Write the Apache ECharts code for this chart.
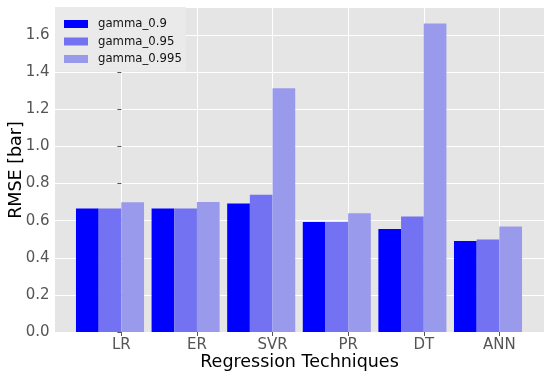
<!DOCTYPE html>
<html>
<head>
<meta charset="utf-8">
<script src="https://cdn.jsdelivr.net/npm/echarts@6/dist/echarts.min.js"></script>
<style>html,body{margin:0;padding:0;background:#fff;}#c{width:550px;height:375px;}</style>
</head>
<body>
<div id="c"></div>
<script>
var categories = ['LR', 'ER', 'SVR', 'PR', 'DT', 'ANN'];
var seriesNames = ['gamma_0.9', 'gamma_0.95', 'gamma_0.995'];
var gamma090 = [0.666, 0.666, 0.693, 0.593, 0.555, 0.490];
var gamma095 = [0.666, 0.666, 0.740, 0.593, 0.623, 0.499];
var gamma0995 = [0.699, 0.700, 1.313, 0.640, 1.663, 0.569];
var yTicks = [0, 0.2, 0.4, 0.6, 0.8, 1.0, 1.2, 1.4, 1.6];
var colors = ['#0000FF', '#7272F2', '#9A9AEC'];

var yMax = 1.746;
var font = 'DejaVu Sans';
var chart = echarts.init(document.getElementById('c'), null, {renderer: 'canvas'});
var tickIdx = categories.map(function (c, i) { return i; });

var option = {
  animation: false,
  textStyle: {fontFamily: font},
  grid: [
    {left: 55, right: 6, top: 8, bottom: 43, show: true, backgroundColor: '#E5E5E5', borderWidth: 0, containLabel: false, outerBoundsMode: 'none'},
    {left: 72.2, right: 24.2, top: 8, bottom: 43, containLabel: false, outerBoundsMode: 'none'}
  ],
  legend: {
    orient: 'vertical', left: 55, top: 7,
    backgroundColor: '#EAEAEA',
    padding: [10, 4, 5, 9],
    icon: 'rect',
    itemWidth: 24, itemHeight: 8, itemGap: 3.5,
    textStyle: {fontSize: 11.7, color: '#111', fontFamily: font, lineHeight: 14, padding: [0, 0, 0, 5]},
    data: seriesNames.map(function (n, i) { return {name: n, itemStyle: {color: colors[i]}}; }),
    z: 10
  },
  xAxis: [
    {
      type: 'value', gridIndex: 0, min: -0.878, max: 5.59, interval: 1,
      name: 'Regression Techniques', nameLocation: 'middle', nameGap: 21, nameMoveOverlap: false,
      nameTextStyle: {fontSize: 17.5, color: '#000', fontFamily: font},
      axisLine: {show: false},
      axisTick: {show: true, length: 4, lineStyle: {color: '#555'}, customValues: tickIdx},
      axisLabel: {
        fontSize: 15, color: '#555', margin: 6, fontFamily: font,
        customValues: tickIdx,
        formatter: function (v) { var i = Math.round(v); return (Math.abs(v - i) < 1e-6 && categories[i]) ? categories[i] : ''; }
      },
      splitLine: {show: true, lineStyle: {color: '#FFFFFF', width: 1}}
    },
    {type: 'category', gridIndex: 1, data: categories, show: false}
  ],
  yAxis: [
    {
      type: 'value', gridIndex: 0, min: 0, max: yMax, interval: 0.2,
      name: 'RMSE [bar]', nameLocation: 'middle', nameGap: 30, nameMoveOverlap: false,
      nameTextStyle: {fontSize: 17.5, color: '#000', fontFamily: font},
      axisLine: {show: false},
      axisTick: {show: true, length: 4, lineStyle: {color: '#555'}, customValues: yTicks},
      axisLabel: {
        fontSize: 15, color: '#555', margin: 5.5, fontFamily: font,
        customValues: yTicks,
        formatter: function (v) { return v.toFixed(1); }
      },
      splitLine: {show: true, lineStyle: {color: '#FFFFFF', width: 1}}
    },
    {type: 'value', gridIndex: 1, min: 0, max: yMax, show: false}
  ],
  series: [
    {name: seriesNames[0], type: 'bar', xAxisIndex: 1, yAxisIndex: 1, data: gamma090, barGap: '0%', barCategoryGap: '10%', itemStyle: {color: colors[0]}},
    {name: seriesNames[1], type: 'bar', xAxisIndex: 1, yAxisIndex: 1, data: gamma095, barGap: '0%', barCategoryGap: '10%', itemStyle: {color: colors[1]}},
    {name: seriesNames[2], type: 'bar', xAxisIndex: 1, yAxisIndex: 1, data: gamma0995, barGap: '0%', barCategoryGap: '10%', itemStyle: {color: colors[2]}}
  ]
};
chart.setOption(option);
</script>
</body>
</html>
